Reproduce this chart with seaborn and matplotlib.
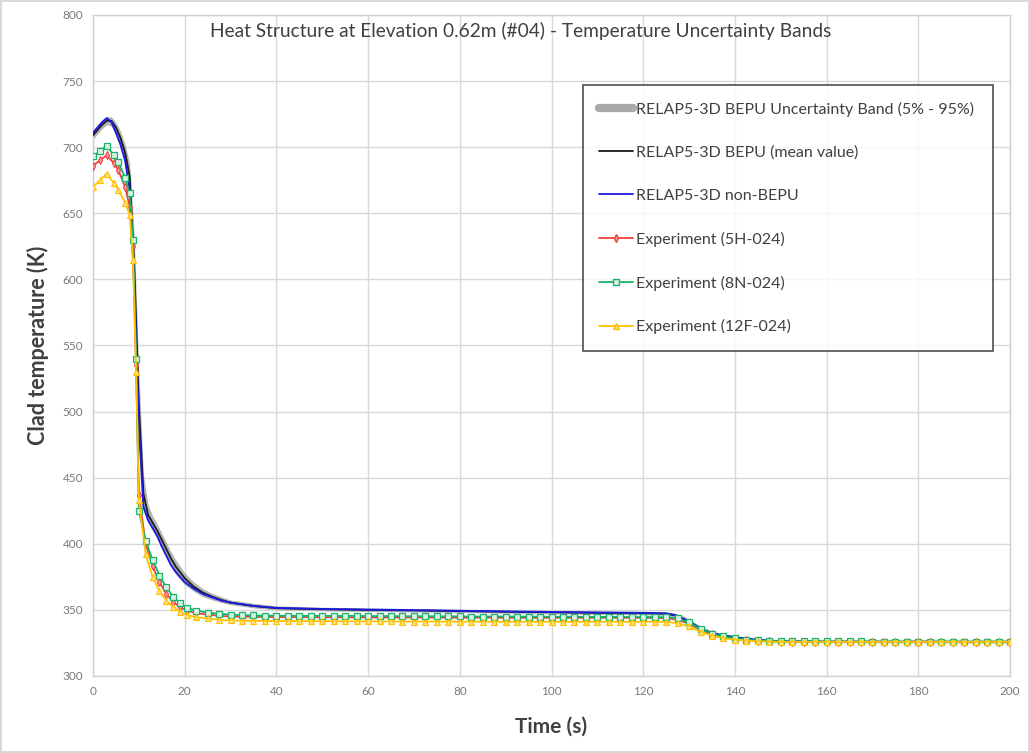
import numpy as np
import pandas as pd
import seaborn as sns
import matplotlib
matplotlib.use("Agg")
import matplotlib.pyplot as plt
from matplotlib.lines import Line2D

# ---------------- data ----------------
model_t = [0, 1, 2, 3, 4, 5, 6, 7, 8, 9, 10, 11, 12, 13, 14, 15, 16, 17, 18, 20,
           22, 24, 26, 28, 30, 35, 40, 50, 60, 70, 80, 90, 100, 110, 120, 125,
           127, 129, 131, 133, 135, 137, 140, 145, 150, 160, 170, 180, 190, 200]

non_bepu = [711, 715, 719, 722, 719, 711, 702, 690, 668, 595, 490, 428, 418, 412, 406, 398, 391, 384, 379, 371,
            366, 362, 359.5, 357, 355.5, 353, 351.5, 350.7, 350.2, 349.8, 349.3, 348.8, 348.4, 348, 347.7, 347.3,
            346, 343, 339, 335, 332.5, 331, 329.3, 327.3, 326.3, 326, 325.9, 325.9, 325.8, 325.8]

bepu_mean = [709, 713, 717, 720, 720, 715, 707, 696, 678, 610, 505, 438, 422, 416, 410, 403, 396, 389, 383, 374,
             367.5, 363, 360, 357.5, 355.5, 353, 351.3, 350.5, 350, 349.6, 349.1, 348.6, 348.2, 347.8, 347.5, 347.1,
             345.8, 342.8, 338.8, 334.8, 332.3, 330.8, 329.1, 327.1, 326.1, 325.8, 325.7, 325.7, 325.6, 325.6]

band_low = [706, 710, 714, 717, 716, 710, 701, 688, 664, 585, 475, 428, 416, 410, 404, 397, 390, 383, 377, 369,
            364, 360, 357.5, 355.5, 354, 351.5, 350, 349.3, 348.8, 348.4, 348, 347.5, 347, 346.6, 346.3, 345.9,
            344.5, 341, 337, 333.5, 331.3, 329.8, 328.3, 326.5, 325.6, 325.3, 325.2, 325.2, 325.1, 325.1]

band_high = [712, 716, 720, 723, 723, 719, 712, 702, 688, 632, 530, 452, 430, 421, 415, 408, 401, 394, 388, 378,
             371, 366, 362.5, 360, 357.5, 355, 353, 352, 351.5, 351, 350.5, 350, 349.6, 349.2, 349, 348.6,
             347.5, 345, 341, 337, 334, 332, 330, 328, 327, 326.6, 326.5, 326.4, 326.4, 326.3]

# experiment sample times: early part, then every 2.5 s
exp_t_early = [0, 1.5, 3, 4.5, 5.5, 7, 8, 8.7, 9.4, 10, 11.5, 13, 14.5, 16, 17.5, 19, 20.5]
exp_t_late = list(np.arange(22.5, 200.1, 2.5))   # 22.5 ... 200 (72 samples)
exp_t = exp_t_early + exp_t_late

# 5H-024
h5_early = [686, 690, 694, 688, 683, 670, 655, 625, 535, 437, 400, 383, 371, 362, 356, 352, 349.5]
h5_plateau = [347.5, 346.5, 345.5, 345.0, 344.8, 344.7, 344.6, 344.6, 344.5, 344.5,   # 22.5-45
              344.5, 344.4, 344.4, 344.4, 344.3, 344.3, 344.3, 344.3, 344.2, 344.2,   # 47.5-70
              344.2, 344.2, 344.1, 344.1, 344.1, 344.1, 344.1, 344.0, 344.0, 344.0,   # 72.5-95
              344.0, 344.0, 344.0, 344.0, 344.0, 344.0, 344.0, 344.0, 344.0, 344.0,   # 97.5-120
              343.9, 343.8]                                                           # 122.5-125
h5_drop = [342.5, 339.5, 335.0, 331.5, 329.5, 328.0, 327.2, 326.7, 326.3, 326.0]        # 127.5-150
h5_tail = [326.0, 326.0, 326.0, 326.0, 326.0, 326.0, 326.0, 326.0, 326.0, 326.0,        # 152.5-175
           326.0, 326.0, 326.0, 326.0, 326.0, 326.0, 326.0, 326.0, 326.0, 326.0]        # 177.5-200
exp_5h = h5_early + h5_plateau + h5_drop + h5_tail

# 8N-024
n8_early = [693, 697, 701, 694, 689, 677, 665, 630, 540, 425, 402, 388, 376, 367, 360, 355, 351.5]
n8_plateau = [349.5, 348.0, 347.0, 346.5, 346.0, 345.8, 345.7, 345.6, 345.6, 345.5,
              345.5, 345.5, 345.4, 345.4, 345.4, 345.3, 345.3, 345.3, 345.2, 345.2,
              345.2, 345.1, 345.1, 345.1, 345.0, 345.0, 345.0, 345.0, 344.9, 344.9,
              344.9, 344.8, 344.8, 344.8, 344.7, 344.7, 344.7, 344.7, 344.6, 344.6,
              344.6, 344.5]
n8_drop = [343.5, 340.5, 335.5, 332.0, 330.0, 328.5, 327.5, 327.0, 326.5, 326.2]
n8_tail = [326.2, 326.2, 326.1, 326.1, 326.1, 326.1, 326.1, 326.0, 326.0, 326.0,
           326.0, 326.0, 326.0, 326.0, 326.0, 326.0, 326.0, 326.0, 326.0, 326.0]
exp_8n = n8_early + n8_plateau + n8_drop + n8_tail

# 12F-024
f12_early = [670, 675, 680, 673, 668, 658, 649, 615, 530, 433, 392, 375, 364, 357, 352, 348.5, 346]
f12_plateau = [344.5, 343.5, 342.5, 342.0, 341.8, 341.7, 341.6, 341.6, 341.5, 341.5,
               341.5, 341.4, 341.4, 341.4, 341.3, 341.3, 341.3, 341.3, 341.2, 341.2,
               341.2, 341.2, 341.1, 341.1, 341.1, 341.1, 341.1, 341.0, 341.0, 341.0,
               341.0, 341.0, 341.0, 341.0, 341.0, 341.0, 341.0, 341.0, 341.0, 341.0,
               341.0, 341.0]
f12_drop = [340.0, 337.5, 333.5, 330.5, 328.5, 327.5, 326.8, 326.3, 326.0, 325.8]
f12_tail = [325.8, 325.8, 325.8, 325.8, 325.8, 325.8, 325.8, 325.8, 325.8, 325.8,
            325.8, 325.8, 325.8, 325.8, 325.8, 325.8, 325.8, 325.8, 325.8, 325.8]
exp_12f = f12_early + f12_plateau + f12_drop + f12_tail

labels = ["RELAP5-3D BEPU Uncertainty Band (5% - 95%)",
          "RELAP5-3D BEPU (mean value)",
          "RELAP5-3D non-BEPU",
          "Experiment (5H-024)",
          "Experiment (8N-024)",
          "Experiment (12F-024)"]

title = "Heat Structure at Elevation 0.62m (#04) - Temperature Uncertainty Bands"
xlabel = "Time (s)"
ylabel = "Clad temperature (K)"

# ---------------- style ----------------
sns.set_theme(style="whitegrid")
plt.rcParams['font.family'] = ['Lato', 'DejaVu Sans']

fig = plt.figure(figsize=(10.30, 7.53), dpi=100)
ax = fig.add_axes([93/1030, 1-676/753, 917/1030, 661/753])

c_band = "#a9a9a9"
c_mean = "#1a1a1a"
c_blue = "#1c1cdc"
c_red = "#f0403c"
c_green = "#19b36b"
c_yellow = "#ffc000"

ax.fill_between(model_t, band_low, band_high, color=c_band, alpha=0.85, lw=0, zorder=2)
sns.lineplot(x=model_t, y=bepu_mean, ax=ax, color=c_mean, lw=1.3, sort=False, estimator=None, zorder=3)
sns.lineplot(x=model_t, y=non_bepu, ax=ax, color=c_blue, lw=1.4, sort=False, estimator=None, zorder=4)
sns.lineplot(x=exp_t, y=exp_5h, ax=ax, color=c_red, lw=1.3, marker="d", markersize=4,
             markerfacecolor="#f7a0a0", markeredgecolor=c_red, markeredgewidth=0.8,
             sort=False, estimator=None, zorder=5)
sns.lineplot(x=exp_t, y=exp_8n, ax=ax, color=c_green, lw=1.3, marker="s", markersize=4.5,
             markerfacecolor="#d8f2e4", markeredgecolor=c_green, markeredgewidth=0.9,
             sort=False, estimator=None, zorder=6)
sns.lineplot(x=exp_t, y=exp_12f, ax=ax, color=c_yellow, lw=1.3, marker="^", markersize=5,
             markerfacecolor="#ffe08a", markeredgecolor=c_yellow, markeredgewidth=0.8,
             sort=False, estimator=None, zorder=7)

ax.set_xlim(0, 200)
ax.set_ylim(300, 800)
ax.set_xticks(np.arange(0, 201, 20))
ax.set_yticks(np.arange(300, 801, 50))
ax.grid(True, color="#d9d9d9", lw=1.0)
for s in ax.spines.values():
    s.set_color("#d0d0d0")
    s.set_linewidth(1.0)
ax.tick_params(axis="both", labelsize=8.5, colors="#7a7a7a", length=0, pad=7)

ax.set_xlabel(xlabel, fontsize=15, fontweight="bold", color="#404040", labelpad=14)
ax.set_ylabel(ylabel, fontsize=15.5, fontweight="bold", color="#404040", labelpad=10)
fig.text(0.506, 1-31/753, title, ha="center", va="center", fontsize=13.8, color="#404040")

handles = [Line2D([], [], color=c_band, lw=6),
           Line2D([], [], color=c_mean, lw=1.3),
           Line2D([], [], color=c_blue, lw=1.3),
           Line2D([], [], color=c_red, lw=1.3, marker="d", markersize=4, markerfacecolor="#f7a0a0"),
           Line2D([], [], color=c_green, lw=1.3, marker="s", markersize=4.5, markerfacecolor="#d8f2e4"),
           Line2D([], [], color=c_yellow, lw=1.3, marker="^", markersize=5, markerfacecolor="#ffe08a")]
leg = ax.legend(handles, labels, loc="upper left", bbox_to_anchor=(0.534, 0.894, 0.447, 0.0),
                mode="expand", frameon=True, fancybox=False, edgecolor="#222222",
                fontsize=11.5, labelspacing=1.8, handlelength=2.1, handletextpad=0.2,
                borderpad=1.05, borderaxespad=0)
leg.get_frame().set_linewidth(1.2)
for t in leg.get_texts():
    t.set_color("#404040")

fig.patch.set_edgecolor("#d9d9d9")
fig.patch.set_linewidth(1.5)
fig.savefig("out.png", dpi=100, edgecolor=fig.get_edgecolor())
